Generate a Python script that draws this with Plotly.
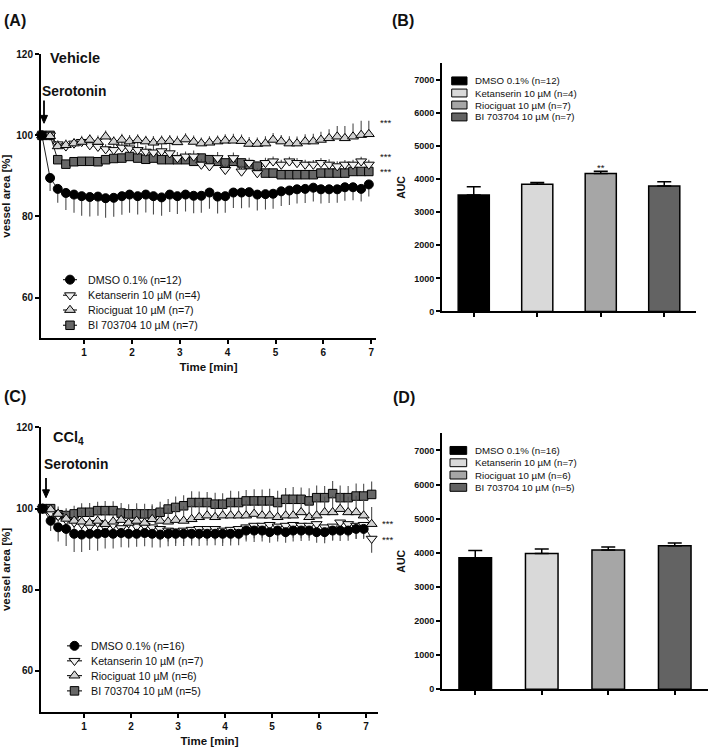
import plotly.graph_objects as go

W, H = 709, 754

# ---------------- data ----------------
TIME = [0.12, 0.29, 0.45, 0.62, 0.79, 0.95, 1.12, 1.29, 1.45, 1.62, 1.79, 1.95,
        2.12, 2.29, 2.45, 2.62, 2.79, 2.95, 3.12, 3.29, 3.45, 3.62, 3.79, 3.95,
        4.12, 4.29, 4.45, 4.62, 4.79, 4.95, 5.12, 5.29, 5.45, 5.62, 5.79, 5.95,
        6.12, 6.29, 6.45, 6.62, 6.79, 6.95, 7.12]

NAMES_A = ["DMSO 0.1% (n=12)", "Ketanserin 10 µM (n=4)", "Riociguat 10 µM (n=7)", "BI 703704 10 µM (n=7)"]
NAMES_C = ["DMSO 0.1% (n=16)", "Ketanserin 10 µM (n=7)", "Riociguat 10 µM (n=6)", "BI 703704 10 µM (n=5)"]

# Panel A (Vehicle) - vessel area [%]
A_DMSO = [100, 89.5, 86.8, 85.8, 85.4, 85.0, 84.8, 84.9, 84.5, 84.6, 85.0, 85.4, 85.0, 85.4,
          85.0, 84.7, 85.4, 85.0, 85.4, 85.1, 85.1, 85.9, 84.9, 85.0, 85.9, 85.9, 86.0, 85.4,
          85.5, 85.6, 86.2, 86.4, 86.7, 86.8, 87.1, 86.7, 86.7, 86.7, 87.2, 87.2, 86.8, 87.9]
A_DMSO_SEM = [0, 3.2, 3.4, 4.2, 4.5, 4.8, 4.8, 4.7, 4.8, 4.7, 4.6, 4.5, 4.5, 4.4, 4.5, 4.5,
              4.3, 4.4, 4.2, 4.3, 4.2, 4.0, 4.2, 4.1, 3.8, 3.9, 3.8, 3.9, 3.8, 3.7, 3.6, 3.6,
              3.5, 3.5, 3.4, 3.5, 3.4, 3.3, 3.3, 3.2, 3.1, 3.0]
A_KET = [100, 100, 97.8, 97.3, 98.0, 98.4, 97.6, 97.2, 96.6, 96.4, 97.0, 96.8, 96.4, 96.0,
         95.8, 96.1, 95.6, 94.4, 94.8, 94.8, 92.8, 92.4, 94.4, 91.5, 94.4, 91.1, 93.2, 90.7,
         93.2, 93.6, 92.8, 93.6, 93.2, 92.8, 92.8, 93.2, 92.8, 92.4, 92.8, 92.8, 93.6, 92.8]
A_KET_SEM = [0, 0.5, 1.0, 1.2, 1.0, 1.2, 1.5, 1.3, 1.2, 1.5, 1.4, 1.5, 2.0, 1.5, 4.0, 1.8,
             3.0, 1.5, 1.2, 1.5, 1.4, 1.2, 1.5, 1.3, 1.4, 1.5, 1.3, 1.2, 1.3, 1.2, 1.2, 1.1,
             1.2, 1.2, 1.1, 1.2, 1.3, 1.2, 1.1, 1.2, 1.1, 1.2]
A_RIO = [100, 99.8, 97.3, 97.6, 98.0, 98.4, 98.9, 98.4, 99.7, 98.4, 98.9, 98.5, 98.8, 98.5,
         98.2, 98.5, 98.6, 98.3, 99.0, 98.4, 98.0, 98.2, 98.5, 98.7, 98.7, 98.6, 97.9, 97.9,
         98.0, 98.9, 98.5, 98.0, 98.0, 98.5, 98.5, 98.9, 99.3, 99.7, 99.3, 99.7, 100.1, 100.3]
A_RIO_SEM = [0, 0.6, 1.2, 1.4, 1.3, 1.5, 1.4, 1.6, 1.5, 1.4, 1.5, 1.6, 1.5, 1.4, 1.6, 1.5,
             1.5, 1.6, 1.5, 1.6, 1.5, 1.6, 1.5, 1.6, 1.7, 1.6, 1.7, 1.6, 1.8, 1.7, 1.6, 1.8,
             1.7, 1.8, 1.9, 2.0, 2.2, 2.6, 3.0, 3.2, 3.5, 3.3]
A_BI = [100, 100, 94.0, 92.9, 93.5, 93.6, 93.6, 93.5, 94.0, 94.3, 94.4, 94.8, 94.4, 94.1,
        94.4, 94.0, 94.0, 94.0, 94.0, 93.6, 94.4, 94.0, 93.6, 93.2, 93.6, 93.2, 92.8, 92.4,
        90.7, 90.7, 90.3, 90.3, 90.3, 90.3, 90.3, 90.7, 90.7, 90.7, 90.7, 91.1, 91.1, 91.1]
A_BI_SEM = [0, 0.3, 0.8, 0.9, 0.8, 0.8, 0.8, 0.9, 0.8, 0.8, 0.9, 0.8, 0.8, 0.9, 0.8, 0.8,
            0.9, 0.8, 0.8, 0.9, 0.8, 0.8, 0.9, 0.8, 0.9, 0.9, 0.8, 0.9, 0.9, 0.9, 1.0, 0.9,
            0.9, 1.0, 0.9, 1.0, 1.0, 0.9, 1.0, 1.0, 1.0, 1.0]

# Panel C (CCl4) - vessel area [%]
C_DMSO = [100, 97.0, 95.4, 95.0, 93.8, 93.6, 93.8, 93.8, 94.0, 93.8, 94.0, 93.8, 93.8, 94.0,
          93.8, 93.6, 93.8, 93.8, 93.8, 93.8, 93.8, 93.8, 93.8, 93.8, 93.8, 93.8, 94.6, 94.6,
          94.6, 94.2, 94.6, 94.2, 94.6, 94.6, 94.6, 94.2, 94.2, 94.6, 94.6, 94.6, 95.0, 95.0]
C_DMSO_SEM = [0, 2.5, 3.5, 4.2, 4.5, 4.3, 4.0, 4.2, 3.8, 3.6, 3.5, 3.4, 3.2, 3.3, 3.4, 3.2,
              3.1, 3.0, 3.0, 2.9, 3.0, 2.9, 2.8, 3.0, 2.9, 2.8, 2.7, 2.8, 2.7, 2.6, 2.7, 2.6,
              2.7, 2.6, 2.5, 2.6, 2.7, 2.5, 2.6, 2.5, 2.4, 2.5]
C_KET = [100, 99.0, 98.2, 97.2, 96.6, 96.2, 95.6, 96.5, 95.5, 96.0, 95.2, 96.4, 95.6, 95.8,
         95.4, 95.0, 94.6, 94.4, 94.6, 94.8, 95.0, 95.0, 95.0, 94.6, 94.8, 95.0, 95.4, 95.8,
         95.8, 96.0, 95.6, 95.8, 96.0, 95.8, 95.8, 96.2, 95.4, 95.6, 96.6, 96.2, 95.8, 96.0, 92.6]
C_KET_SEM = [0, 1.0, 1.5, 2.0, 2.2, 2.4, 2.5, 2.6, 2.5, 2.7, 2.5, 2.6, 2.8, 2.7, 2.6, 2.8,
             2.7, 2.9, 2.8, 2.7, 2.8, 2.9, 2.8, 3.0, 2.9, 2.8, 3.0, 3.1, 3.0, 2.9, 3.1, 3.0,
             3.2, 3.1, 3.0, 3.2, 3.1, 3.3, 3.2, 3.1, 3.3, 3.2, 3.5]
C_RIO = [100, 99.8, 98.7, 97.5, 97.0, 96.8, 96.5, 97.0, 96.2, 96.8, 97.2, 96.5, 97.0, 96.5,
         97.4, 97.0, 96.8, 97.2, 97.0, 97.4, 97.9, 98.3, 97.9, 98.3, 98.3, 98.3, 98.3, 98.7,
         98.3, 98.3, 97.9, 98.3, 98.3, 99.1, 97.9, 98.3, 99.1, 99.1, 99.9, 99.1, 99.1, 98.3, 96.2]
C_RIO_SEM = [0, 1.0, 1.8, 2.2, 2.5, 2.8, 3.0, 2.8, 3.2, 3.0, 3.1, 3.3, 3.2, 3.4, 3.3, 3.5,
             3.4, 3.5, 3.6, 3.5, 3.7, 3.6, 3.8, 3.7, 3.6, 3.8, 3.7, 3.9, 3.8, 3.7, 3.9, 3.8,
             4.0, 3.9, 3.8, 4.0, 3.9, 4.1, 4.0, 3.9, 4.1, 4.0, 4.2]
C_BI = [100, 100, 98.5, 98.3, 98.7, 99.1, 99.1, 99.5, 99.5, 99.5, 98.9, 98.7, 98.7, 98.7,
        98.7, 99.1, 99.9, 100.3, 100.7, 101.5, 101.5, 101.5, 101.1, 101.1, 101.5, 101.5, 101.9,
        101.9, 101.9, 101.9, 101.5, 102.3, 102.3, 102.3, 101.9, 102.7, 102.7, 103.7, 102.7,
        102.7, 103.1, 103.1, 103.5]
C_BI_SEM = [0, 0.5, 1.5, 1.8, 2.0, 2.2, 2.3, 2.2, 2.4, 2.3, 2.5, 2.4, 2.6, 2.5, 2.4, 2.6,
            2.5, 2.7, 2.6, 2.8, 2.7, 2.6, 2.8, 2.7, 2.9, 2.8, 2.7, 2.9, 2.8, 3.0, 2.9, 2.8,
            3.0, 2.9, 3.1, 3.0, 2.9, 3.1, 3.0, 2.9, 3.1, 3.0, 3.2]

# Panels B / D - AUC
B_AUC = [3520, 3848, 4167, 3790]
B_SEM = [250, 50, 68, 130]
D_AUC = [3853, 3977, 4084, 4208]
D_SEM = [210, 135, 85, 78]

Y_TICKS_LINE = [60, 80, 100, 120]
X_TICKS_LINE = [1, 2, 3, 4, 5, 6, 7]
Y_TICKS_BAR = [0, 1000, 2000, 3000, 4000, 5000, 6000, 7000]

# ---------------- styles ----------------
FONT = "Arial, Liberation Sans, Helvetica, sans-serif"
MARK = [
    dict(symbol="circle", color="#000000", size=9),
    dict(symbol="triangle-down", color="#f2f2f2", size=9.5),
    dict(symbol="triangle-up", color="#d2d2d2", size=9.5),
    dict(symbol="square", color="#676767", size=8.5),
]
BAR_COLORS = ["#000000", "#d9d9d9", "#a6a6a6", "#636363"]


def dx(p):
    return p / W


def dy(p):
    return 1 - p / H


fig = go.Figure()


def add_line_panel(xa, ya, series, sems, dirs, names):
    order = [3, 1, 2, 0]
    for k in order:
        vals = series[k]
        sem = sems[k]
        n = len(vals)
        up = sem if dirs[k] == "up" else [0] * n
        dn = sem if dirs[k] == "down" else [0] * n
        m = MARK[k]
        fig.add_trace(go.Scatter(
            x=TIME[:n], y=vals, mode="lines+markers", name=names[k], showlegend=False,
            xaxis=xa, yaxis=ya, cliponaxis=False,
            line=dict(color="#222222", width=1),
            marker=dict(symbol=m["symbol"], color=m["color"], size=m["size"],
                        line=dict(color="#000000", width=1)),
            error_y=dict(type="data", symmetric=False, array=up, arrayminus=dn,
                         width=0, thickness=1.1, color="#4d4d4d"),
        ))


add_line_panel("x", "y", [A_DMSO, A_KET, A_RIO, A_BI],
               [A_DMSO_SEM, A_KET_SEM, A_RIO_SEM, A_BI_SEM],
               ["down", "up", "up", "down"], NAMES_A)
add_line_panel("x3", "y3", [C_DMSO, C_KET, C_RIO, C_BI],
               [C_DMSO_SEM, C_KET_SEM, C_RIO_SEM, C_BI_SEM],
               ["down", "down", "up", "up"], NAMES_C)


def add_bar_panel(xa, ya, vals, sems, names):
    fig.add_trace(go.Bar(
        x=names, y=vals, width=0.49, xaxis=xa, yaxis=ya, showlegend=False,
        marker=dict(color=BAR_COLORS, line=dict(color="#000000", width=1.5)),
        error_y=dict(type="data", symmetric=False, array=sems, arrayminus=[0] * len(sems),
                     width=7, thickness=1.5, color="#000000"),
    ))


add_bar_panel("x2", "y2", B_AUC, B_SEM, NAMES_A)
add_bar_panel("x4", "y4", D_AUC, D_SEM, NAMES_C)

# --------- legend glyphs on a pixel overlay axis (x5/y5) ---------
LEG_A_ROWS = [277.7, 293.5, 308.5, 324.0]
LEG_C_ROWS = [649.3, 664.5, 679.5, 695.0]
for rows, x0, x1, names in [(LEG_A_ROWS, 63, 77, NAMES_A), (LEG_C_ROWS, 67, 82, NAMES_C)]:
    for k, r in enumerate(rows):
        m = MARK[k]
        fig.add_trace(go.Scatter(x=[x0, x1], y=[r, r], mode="lines", xaxis="x5", yaxis="y5",
                                 showlegend=False, hoverinfo="skip",
                                 line=dict(color="#222222", width=1.2)))
        fig.add_trace(go.Scatter(x=[(x0 + x1) / 2], y=[r], mode="markers", xaxis="x5", yaxis="y5",
                                 showlegend=False, hoverinfo="skip",
                                 marker=dict(symbol=m["symbol"], color=m["color"], size=m["size"],
                                             line=dict(color="#000000", width=1))))

annotations = []
shapes = []


def pix_text(x, y, text, size, bold=False, xanchor="left", color="#111111"):
    annotations.append(dict(
        x=x, y=y, xref="x5", yref="y5", text=text, showarrow=False,
        xanchor=xanchor, yanchor="middle",
        font=dict(family=FONT, size=size, color=color, weight="bold" if bold else "normal"),
    ))


for rows, tx, names in [(LEG_A_ROWS, 86, NAMES_A), (LEG_C_ROWS, 89, NAMES_C)]:
    for r, nm in zip(rows, names):
        pix_text(tx, r, nm, 10.7)

LEG_B_ROWS = [76.0, 88.3, 100.5, 112.6]
LEG_D_ROWS = [451.0, 463.5, 476.0, 488.5]
for rows, sx0, sx1, tx, names in [(LEG_B_ROWS, 451.7, 467, 473, NAMES_A),
                                   (LEG_D_ROWS, 450, 466.7, 472.7, NAMES_C)]:
    for k, (r, nm) in enumerate(zip(rows, names)):
        shapes.append(dict(type="rect", xref="x5", yref="y5", x0=sx0, x1=sx1, y0=r - 4, y1=r + 4,
                           fillcolor=BAR_COLORS[k], line=dict(color="#000000", width=1)))
        pix_text(tx, r, nm, 9.7)

# panel letters and labels
pix_text(2, 15, "(A)", 16, bold=True)
pix_text(390, 15, "(B)", 16, bold=True)
pix_text(1.5, 396, "(C)", 16, bold=True)
pix_text(391, 397, "(D)", 16, bold=True)
pix_text(48, 53, "Vehicle", 14.5, bold=True)
pix_text(51, 438, "CCl<sub>4</sub>", 14.5, bold=True)
pix_text(40, 87, "Serotonin", 13.8, bold=True)
pix_text(42, 465, "Serotonin", 13.8, bold=True)

# stimulation arrows (shaft + head)
for ax_, y0_, y1_ in [(44, 96, 119), (46, 479, 499)]:
    shapes.append(dict(type="line", xref="x5", yref="y5", x0=ax_, x1=ax_, y0=y0_, y1=y1_ - 6,
                       line=dict(color="#000000", width=1.8)))
    shapes.append(dict(type="path", xref="x5", yref="y5",
                       path=f"M {ax_ - 3.5} {y1_ - 8} L {ax_ + 3.5} {y1_ - 8} L {ax_} {y1_} Z",
                       fillcolor="#000000", line=dict(color="#000000", width=1)))

# significance marks
for y_ in [118.3, 152.7, 168.3]:
    pix_text(378, y_, "***", 9.5)
for y_ in [525.0, 541.7]:
    pix_text(380, y_, "***", 9.5)
pix_text(600.5, 164, "**", 9.5, xanchor="center")

# ---------------- axes ----------------
tickfont_line = dict(family=FONT, size=10, color="#111111", weight="bold")
tickfont_bar = dict(family=FONT, size=9, color="#111111", weight="bold")
titlefont = dict(family=FONT, size=11.5, color="#111111", weight="bold")
common = dict(showgrid=False, zeroline=False, showline=True, linecolor="#000000", linewidth=2,
              ticks="outside", ticklen=4, tickwidth=1.5, tickcolor="#000000")

layout = dict(
    width=W, height=H, margin=dict(l=0, r=0, t=0, b=0),
    paper_bgcolor="white", plot_bgcolor="rgba(0,0,0,0)",
    font=dict(family=FONT), showlegend=False,
    annotations=annotations, shapes=shapes,
)

# A
layout["xaxis"] = dict(common, domain=[dx(41), dx(376)], range=[0.1, 7.1], anchor="y",
                       tickvals=X_TICKS_LINE, tickfont=tickfont_line,
                       title=dict(text="Time [min]", font=titlefont, standoff=6))
layout["yaxis"] = dict(common, domain=[dy(337), dy(49)], range=[50, 120], anchor="x",
                       tickvals=Y_TICKS_LINE, tickfont=tickfont_line,
                       title=dict(text="vessel area [%]", font=titlefont, standoff=5))
# B
layout["xaxis2"] = dict(common, domain=[dx(442), dx(696)], range=[-0.5, 3.5], anchor="y2",
                        showticklabels=False, type="category")
layout["yaxis2"] = dict(common, domain=[dy(310), dy(58.2)], range=[0, 7500], anchor="x2",
                        tickvals=Y_TICKS_BAR, tickfont=tickfont_bar,
                        title=dict(text="AUC", font=dict(titlefont, size=10.5), standoff=6))
# C
layout["xaxis3"] = dict(common, domain=[dx(41), dx(378)], range=[0.085, 7.255], anchor="y3",
                        tickvals=X_TICKS_LINE, tickfont=tickfont_line,
                        title=dict(text="Time [min]", font=titlefont, standoff=6))
layout["yaxis3"] = dict(common, domain=[dy(716), dy(427.7)], range=[50, 120], anchor="x3",
                        tickvals=Y_TICKS_LINE, tickfont=tickfont_line,
                        title=dict(text="vessel area [%]", font=titlefont, standoff=5))
# D
layout["xaxis4"] = dict(common, domain=[dx(442), dx(708)], range=[-0.5, 3.5], anchor="y4",
                        showticklabels=False, type="category")
layout["yaxis4"] = dict(common, domain=[dy(693.3), dy(433.7)], range=[0, 7500], anchor="x4",
                        tickvals=Y_TICKS_BAR, tickfont=tickfont_bar,
                        title=dict(text="AUC", font=dict(titlefont, size=10.5), standoff=6))
# pixel overlay for legends / labels
layout["xaxis5"] = dict(domain=[0, 1], range=[0, W], visible=False, anchor="y5", fixedrange=True)
layout["yaxis5"] = dict(domain=[0, 1], range=[H, 0], visible=False, anchor="x5", fixedrange=True)

fig.update_layout(**layout)
fig.write_html("out.html", config={"displayModeBar": False},
               post_script="document.body.style.margin='0px';")
